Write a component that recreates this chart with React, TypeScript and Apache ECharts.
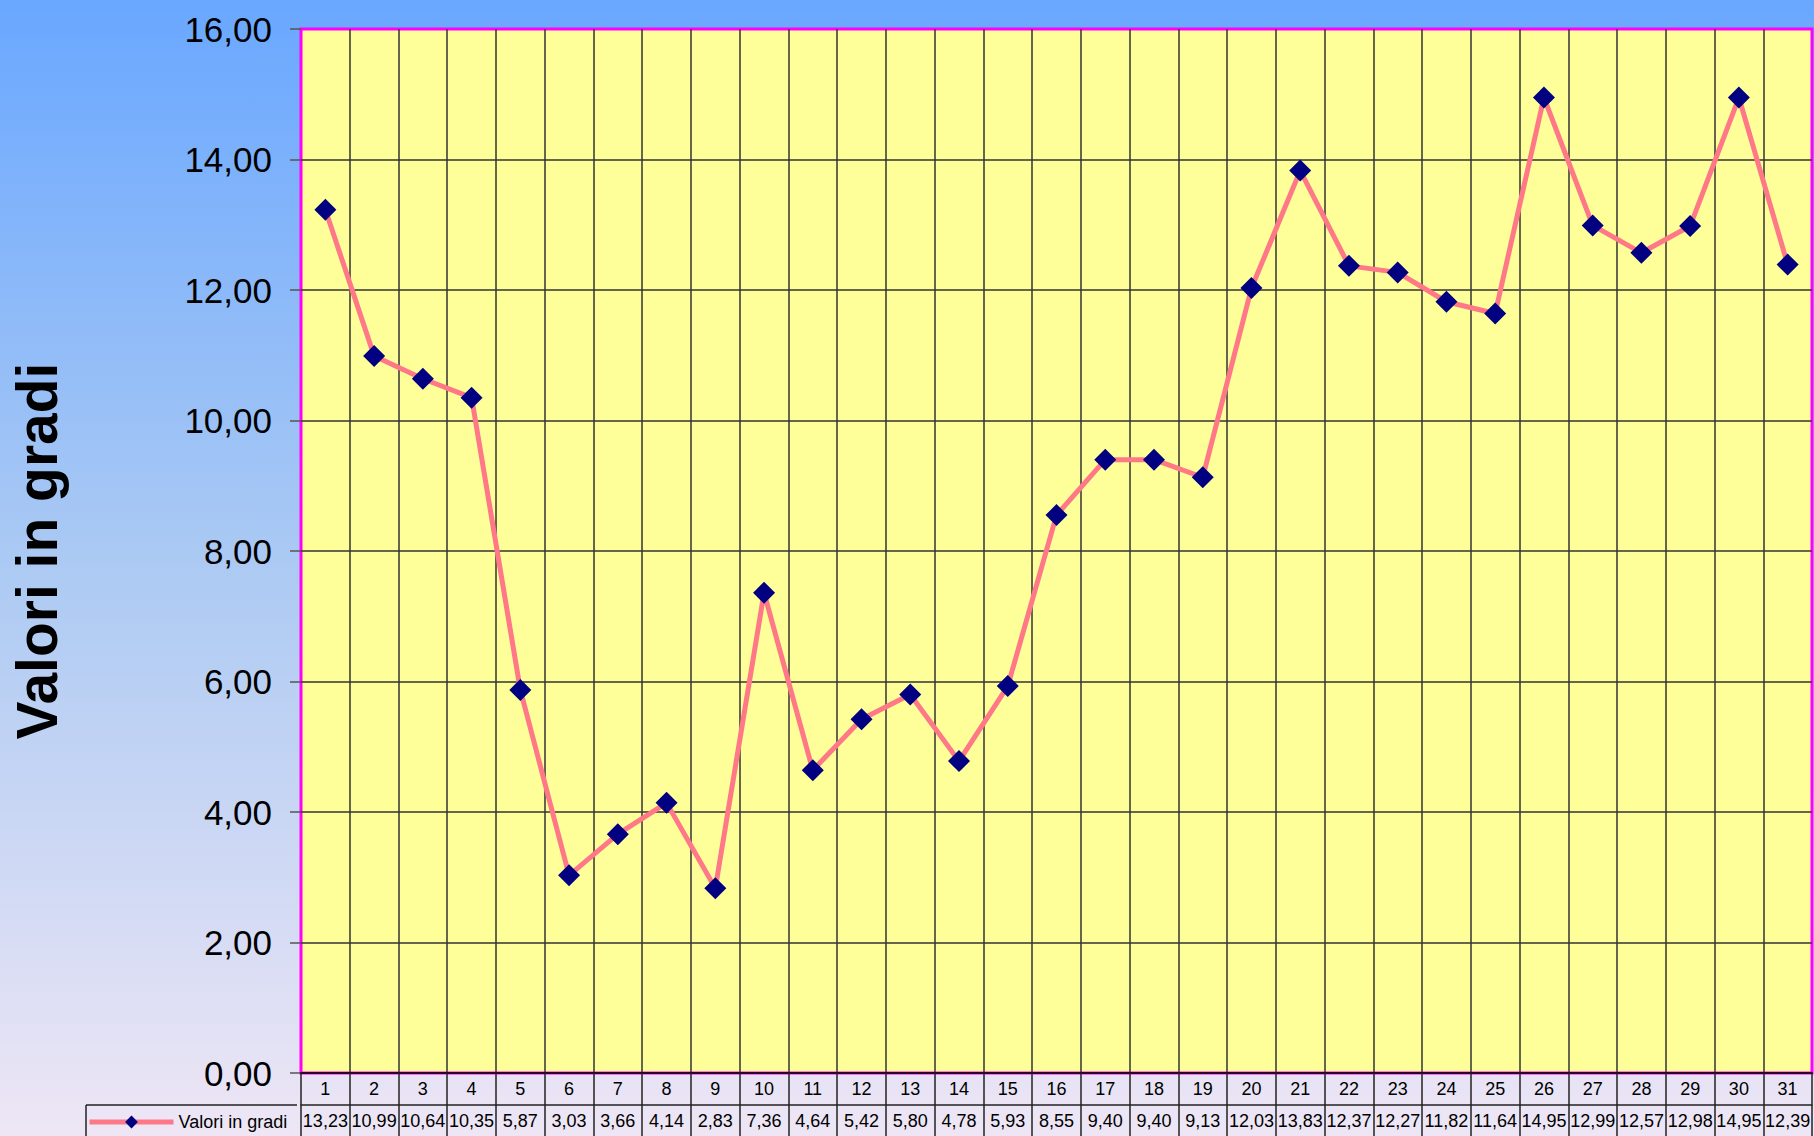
import React, { useEffect, useRef } from "react";
import * as echarts from "echarts";

const categories = [
  "1", "2", "3", "4", "5", "6", "7", "8", "9", "10", "11", "12", "13", "14", "15", "16",
  "17", "18", "19", "20", "21", "22", "23", "24", "25", "26", "27", "28", "29", "30", "31",
];
const values = [
  13.23, 10.99, 10.64, 10.35, 5.87, 3.03, 3.66, 4.14, 2.83, 7.36, 4.64, 5.42, 5.8, 4.78, 5.93,
  8.55, 9.4, 9.4, 9.13, 12.03, 13.83, 12.37, 12.27, 11.82, 11.64, 14.95, 12.99, 12.57, 12.98,
  14.95, 12.39,
];
const seriesName = "Valori in gradi";
const yMin = 0;
const yMax = 16;
const yInterval = 2;

const fmt = (v: number) => v.toFixed(2).replace(".", ",");
const FONT = "'Liberation Sans', Arial, sans-serif";

export default function App() {
  const ref = useRef<HTMLDivElement>(null);
  useEffect(() => {
    const chart = echarts.init(ref.current!, null, { renderer: "svg" });
    chart.setOption({
      animation: false,
      backgroundColor: new echarts.graphic.LinearGradient(0, 0, 0, 1, [
        { offset: 0, color: "#69A7FF" },
        { offset: 0.5, color: "#ACCAF3" },
        { offset: 1, color: "#EEE6F5" },
      ]),
      textStyle: { fontFamily: FONT },
      grid: {
        left: 297,
        right: 2,
        top: 29,
        bottom: 63,
        show: true,
        backgroundColor: "#FFFF99",
        borderColor: "#FF00FF",
        borderWidth: 3,
        containLabel: false,
      },
      legend: {
        data: [seriesName],
        left: 87,
        top: 1113,
        padding: 0,
        itemWidth: 84,
        itemHeight: 16,
        itemGap: 4,
        lineStyle: { width: 5, color: "#FF7888" },
        itemStyle: { color: "#000080" },
        textStyle: { fontSize: 18, color: "#000", fontFamily: FONT },
      },
      xAxis: [
        {
          type: "category",
          data: categories,
          position: "bottom",
          boundaryGap: true,
          axisLine: { show: true, lineStyle: { color: "#300030", width: 2 } },
          axisTick: { show: true, length: 63, alignWithLabel: false, lineStyle: { color: "#222", width: 1.5 } },
          axisLabel: { interval: 0, fontSize: 18, color: "#000", margin: 7, fontFamily: FONT },
          splitLine: {
            show: true,
            interval: 0,
            showMinLine: false,
            showMaxLine: false,
            lineStyle: { color: "#333", width: 1.5 },
          },
          z: 5,
        },
        {
          type: "category",
          data: categories,
          position: "bottom",
          offset: 32,
          boundaryGap: true,
          axisLine: { show: true, lineStyle: { color: "#222", width: 1.5 } },
          axisTick: { show: false },
          axisLabel: {
            interval: 0,
            fontSize: 18,
            color: "#000",
            margin: 7,
            fontFamily: FONT,
            formatter: (_v: string, idx: number) => fmt(values[idx]),
          },
          splitLine: { show: false },
        },
      ],
      yAxis: {
        type: "value",
        min: yMin,
        max: yMax,
        interval: yInterval,
        name: seriesName,
        nameLocation: "middle",
        nameRotate: 90,
        nameGap: 236,
        nameTextStyle: { fontSize: 57, fontWeight: "bold", color: "#000", fontFamily: FONT },
        axisLine: { show: false },
        axisTick: { show: true, length: 11, lineStyle: { color: "#555", width: 1.5 } },
        axisLabel: {
          fontSize: 35,
          color: "#000",
          margin: 29,
          fontFamily: FONT,
          formatter: (v: number) => fmt(v),
        },
        splitLine: {
          show: true,
          showMinLine: false,
          showMaxLine: false,
          lineStyle: { color: "#333", width: 1.5 },
        },
      },
      graphic: [
        { type: "line", shape: { x1: 86, y1: 1105, x2: 297, y2: 1105 }, style: { stroke: "#222", lineWidth: 1.5 } },
        { type: "line", shape: { x1: 86, y1: 1105, x2: 86, y2: 1136 }, style: { stroke: "#222", lineWidth: 1.5 } },
      ],
      series: [
        {
          name: seriesName,
          type: "line",
          data: values,
          xAxisIndex: 0,
          yAxisIndex: 0,
          symbol: "diamond",
          symbolSize: 22,
          itemStyle: { color: "#000080" },
          lineStyle: { color: "#FF7888", width: 5 },
          z: 10,
        },
      ],
    });
    return () => chart.dispose();
  }, []);
  return (
    <div
      ref={ref}
      style={{ position: "fixed", left: 0, top: 0, width: 1814, height: 1136 }}
    />
  );
}
